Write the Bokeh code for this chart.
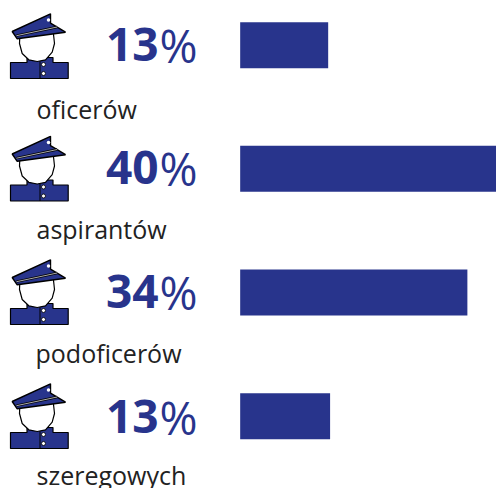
from bokeh.plotting import figure
from bokeh.models import Range1d
from bokeh.embed import file_html
from bokeh.resources import INLINE
from bokeh.core.properties import value

categories = ["oficerów", "aspirantów", "podoficerów", "szeregowych"]
percent_labels = [13, 40, 34, 13]
bar_values = [13.75, 40.0, 35.5, 14.05]

BLUE = "#28348c"
INK = "#000000"
TEXT = "#222222"
FONT = "Open Sans"
W, H = 496, 488

p = figure(width=W, height=H, output_backend="svg", toolbar_location=None,
           x_range=Range1d(0, W), y_range=Range1d(H, 0), x_axis_type=None, y_axis_type=None,
           min_border=0, outline_line_color=None, background_fill_color="white", border_fill_color="white")
p.grid.visible = False

# value scale: 0 % sits just left of pixel 240, 40 % at the right edge
p.extra_x_ranges["pct"] = Range1d(-37.45, 40.05)
# row scale: rows are about 123.7 px apart
p.extra_y_ranges["row"] = Range1d(3.585, -0.361)

rows = list(range(len(categories)))
p.hbar(y=rows, left=0, right=bar_values, height=0.372, color=BLUE, line_color=None,
       x_range_name="pct", y_range_name="row")

icon_dy = [0, 122.5, 246, 370]
pct_y = [44, 167, 291, 416]
label_y = [108, 228.5, 352.5, 474]
label_x = [36, 36, 35, 36]
num_right = [158, 158, 158, 158]

# police-officer pictogram, outline in icon-local pixels
body = [(10, 62), (26.5, 62), (26.5, 57), (52.5, 57), (52.5, 62), (67.7, 62), (67.7, 78), (10, 78)]
face = [(19.3, 36), (19, 43), (21.7, 53), (28.3, 59.3), (36.7, 61), (45, 59.3), (51.7, 51.7), (54, 43), (52.7, 31)]
cap = [(11.7, 31), (50, 13.3), (50, 22.7), (65, 31.7), (16.7, 38.3)]
band = [(16, 35.2), (56.7, 26.5)]
lapel = [(39.5, 61), (39.5, 78)]
buttons = [(43, 64), (43, 73)]
badge = [(48, 19.5)]

def xs(pts): return [a for a, _ in pts]
def ys(pts, d): return [b + d for _, b in pts]

for i, d in enumerate(icon_dy):
    p.patch(xs(body), ys(body, d), fill_color=BLUE, line_color=INK, line_width=1.2)
    p.patch(xs(face), ys(face, d), fill_color="white", line_color=INK, line_width=1.2)
    p.patch(xs(cap), ys(cap, d), fill_color=BLUE, line_color=INK, line_width=1.4)
    p.line(xs(band), ys(band, d), line_color=INK, line_width=2.4)
    p.line(xs(band), ys(band, d), line_color="#d8d8d8", line_width=0.8)
    p.scatter(xs(badge), ys(badge, d), size=3.5, fill_color="white", line_color=None)
    p.line(xs(lapel), ys(lapel, d), line_color=INK, line_width=1)
    p.scatter(xs(buttons), ys(buttons, d), size=4, fill_color="white", line_color=INK, line_width=0.8)

p.text(x=num_right, y=pct_y, text=[str(v) for v in percent_labels], text_font=value(FONT),
       text_font_style="bold", text_font_size="46px", text_color=BLUE, text_align="right", text_baseline="alphabetic")
p.text(x=[159] * 4, y=pct_y, text=["%"] * 4, text_font=value(FONT),
       text_font_size="46px", text_color=BLUE, text_align="left", text_baseline="alphabetic")
p.text(x=label_x, y=label_y, text=categories, text_font=value(FONT),
       text_font_size="25px", text_color=TEXT, text_align="left", text_baseline="alphabetic")

open("out.html", "w").write(file_html(p, INLINE))
